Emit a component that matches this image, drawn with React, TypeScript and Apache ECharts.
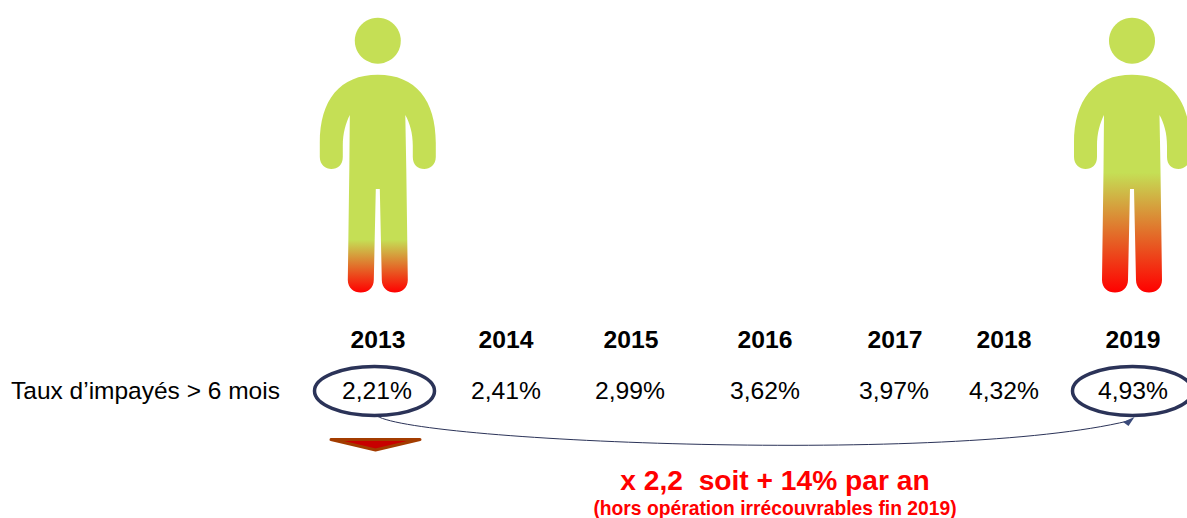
import React, { useEffect, useRef } from "react";
import * as echarts from "echarts";

const years = ["2013", "2014", "2015", "2016", "2017", "2018", "2019"];
const rates = ["2,21%", "2,41%", "2,99%", "3,62%", "3,97%", "4,32%", "4,93%"];
const rowLabel = "Taux d’impayés > 6 mois";
const headline = "x 2,2  soit + 14% par an";
const footnote = "(hors opération irrécouvrables fin 2019)";

const yearCentres = [378, 506, 631, 765, 895, 1004, 1133];
const rateCentres = [377, 506, 630, 765, 894, 1004, 1133];

const GREEN = "#c5df55";
const NAVY = "#2b3358";
const FONT = '"Liberation Sans", Arial, sans-serif';

const BODY =
  "M0 74.7 C38 74.7 58 100 58 143 L58 157 C58 165 52 169 46.5 169 C40 169 35 165 35 157 L35 146 C35 133 32 123 27.5 115 " +
  "L28.5 170 L30 280 C30 288 24 292.5 17 292.5 C10 292.5 4 288 4 280 L2 189 L-2 189 L-4 280 C-4 288 -10 292.5 -17 292.5 " +
  "C-24 292.5 -30 288 -30 280 L-28.5 170 L-28 115 C-32 123 -35 133 -35 146 L-35 157 C-35 165 -40 169 -46.5 169 " +
  "C-52 169 -58 165 -58 157 L-58 143 C-58 100 -38 74.7 0 74.7 Z";

echarts.graphic.registerShape("personBody", echarts.graphic.extendPath(BODY, {}));

const bodyFill = (greenUntil: number) =>
  new echarts.graphic.LinearGradient(0, 0, 0, 1, [
    { offset: 0, color: GREEN },
    { offset: greenUntil, color: GREEN },
    { offset: 1, color: "#ff0000" },
  ]);

const person = (x: number, greenUntil: number) => [
  { type: "circle", shape: { cx: x, cy: 40.7, r: 23 }, style: { fill: GREEN } },
  { type: "personBody", x, y: 0, style: { fill: bodyFill(greenUntil) } },
];

const ellipse = (cx: number) => ({
  type: "ellipse",
  shape: { cx, cy: 391, rx: 60, ry: 24.5 },
  style: { fill: "none", stroke: NAVY, lineWidth: 3.5 },
});

const text = (x: number, y: number, t: string, size: number, color: string, bold: boolean, align = "center") => ({
  type: "text",
  x,
  y,
  style: {
    text: t,
    fill: color,
    fontSize: size,
    fontWeight: bold ? "bold" : "normal",
    fontFamily: FONT,
    align,
    verticalAlign: "middle",
  },
});

const labelRow = (name: string, xs: number[], labels: string[], y: number, bold: boolean) => {
  const style = {
    show: true,
    position: "inside",
    color: "#000000",
    fontSize: 24.7,
    fontFamily: FONT,
    fontWeight: bold ? "bold" : "normal",
  };
  return {
    name,
    type: "scatter",
    symbolSize: 0,
    silent: true,
    itemStyle: { opacity: 1 },
    data: xs.map((x, i) => ({ value: [x, y], label: { ...style, formatter: labels[i] } })),
    label: style,
  };
};

export default function App() {
  const ref = useRef<HTMLDivElement>(null);
  useEffect(() => {
    const chart = echarts.init(ref.current!, null, { renderer: "svg" });
    chart.setOption({
      animation: false,
      backgroundColor: "#fff",
      grid: { left: 0, right: 0, top: 0, bottom: 0 },
      xAxis: { type: "value", min: 0, max: 1187, show: false },
      yAxis: { type: "value", min: 0, max: 518, inverse: true, show: false },
      series: [
        labelRow("Années", yearCentres, years, 339, true),
        labelRow("Taux", rateCentres, rates, 390.5, false),
      ],
      graphic: {
        elements: [
          ...person(377.8, 0.758),
          ...person(1132, 0.45),
          ellipse(374.5),
          ellipse(1132.5),
          {
            type: "bezierCurve",
            shape: { x1: 377, y1: 416, cpx1: 420, cpy1: 442, cpx2: 950, cpy2: 464, x2: 1128, y2: 421 },
            style: { fill: "none", stroke: NAVY, lineWidth: 1 },
          },
          {
            type: "polygon",
            shape: { points: [[1134.5, 417], [1123, 422], [1128.5, 426]] },
            style: { fill: "#3a4a7a" },
          },
          {
            type: "polygon",
            shape: { points: [[331, 439.5], [420, 439.5], [375.5, 450]] },
            style: { fill: "#c80000", stroke: "#a33c00", lineWidth: 3, lineJoin: "round" },
          },
          text(11, 390, rowLabel, 24.5, "#000", false, "left"),
          text(775, 480, headline, 28.2, "#ff0000", true),
          text(775, 508, footnote, 19.3, "#ff0000", true),
        ],
      },
    });
    return () => chart.dispose();
  }, []);
  return <div ref={ref} style={{ position: "absolute", left: 0, top: 0, width: 1187, height: 518 }} />;
}
